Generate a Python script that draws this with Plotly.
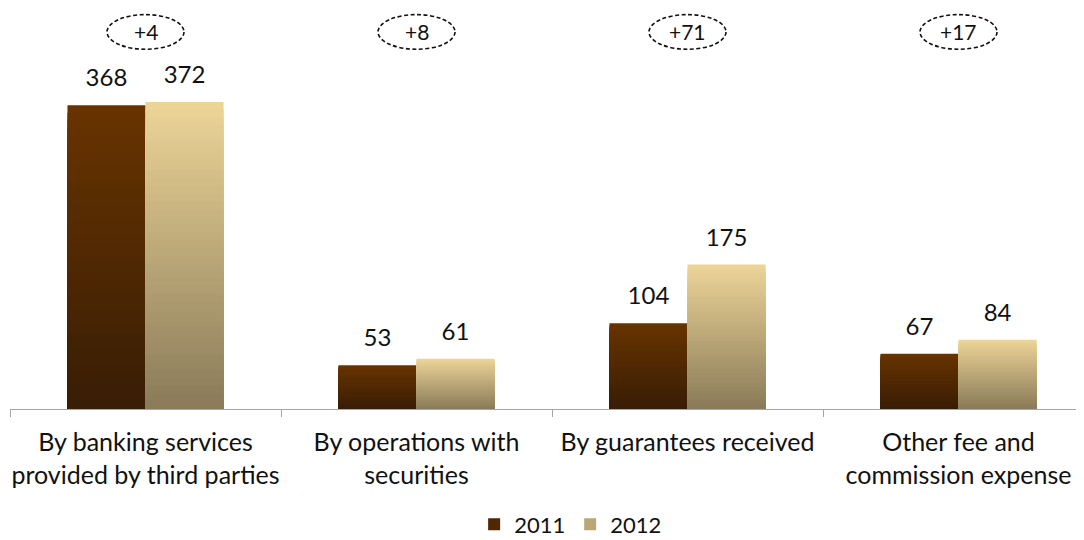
import plotly.graph_objects as go

categories = [
    "By banking services<br>provided by third parties",
    "By operations with<br>securities",
    "By guarantees received",
    "Other fee and<br>commission expense",
]
values_2011 = [368, 53, 104, 67]
values_2012 = [372, 61, 175, 84]
changes = ["+4", "+8", "+71", "+17"]

FONT = "Lato"
N = 40  # layers per bar, for the vertical gradient


def mix(top, bottom, t):
    # t = 0 -> top colour, t = 1 -> bottom colour
    c = [round(a + (b - a) * t) for a, b in zip(top, bottom)]
    return "rgb(%d,%d,%d)" % tuple(c)


series = [
    ("2011", values_2011, (104, 52, 0), (56, 29, 5)),
    ("2012", values_2012, (237, 213, 152), (137, 122, 88)),
]

fig = go.Figure()

for name, vals, top, bottom in series:
    # overlapping layers, tallest first, so each one only shows its top band
    for i in range(N):
        frac = (N - i) / N
        t = (i + 0.5) / N
        fig.add_trace(go.Bar(
            x=categories,
            y=[v * frac for v in vals],
            offsetgroup=name,
            name=name,
            legendgroup=name,
            showlegend=(i == N // 2),
            marker=dict(color=mix(top, bottom, t), line=dict(width=0)),
            hoverinfo="skip",
        ))

# value labels, grouped the same way as the bars
for name, vals, top, bottom in series:
    fig.add_trace(go.Scatter(
        x=categories,
        y=vals,
        offsetgroup=name,
        mode="markers+text",
        marker=dict(size=19, color="rgba(0,0,0,0)"),
        text=[str(v) for v in vals],
        textposition="top center",
        textfont=dict(family=FONT, size=24, color="#111"),
        showlegend=False,
        cliponaxis=False,
        hoverinfo="skip",
    ))

for i, c in enumerate(changes):
    fig.add_shape(
        type="circle", xref="x", yref="y",
        x0=i - 0.142, x1=i + 0.142, y0=436, y1=478,
        line=dict(color="#111", width=1.6, dash="4px,2.5px"),
    )
    fig.add_annotation(
        x=categories[i], y=457, text=c, showarrow=False,
        font=dict(family=FONT, size=21, color="#111"),
    )

fig.update_layout(
    width=1084, height=540,
    margin=dict(l=2, r=8, t=0, b=138.5, autoexpand=False),
    plot_bgcolor="white", paper_bgcolor="white",
    barmode="group", bargap=0.424, bargroupgap=0,
    scattermode="group", scattergap=0.424,
    font=dict(family=FONT, size=24, color="#111"),
    legend=dict(
        orientation="h", x=0.522, xanchor="center", y=-0.288, yanchor="middle",
        font=dict(size=22), traceorder="normal",
    ),
)
fig.update_xaxes(
    range=[-0.5, 3.463], automargin=False, tickangle=0,
    showline=True, linecolor="#a6a6a6", linewidth=1,
    ticks="outside", tickson="boundaries", ticklen=7, tickcolor="#a6a6a6",
    ticklabelstandoff=11,
    tickfont=dict(family=FONT, size=25, color="#111"),
    showgrid=False,
)
fig.update_yaxes(range=[0, 486], visible=False, showgrid=False)

fig.write_html("out.html")
